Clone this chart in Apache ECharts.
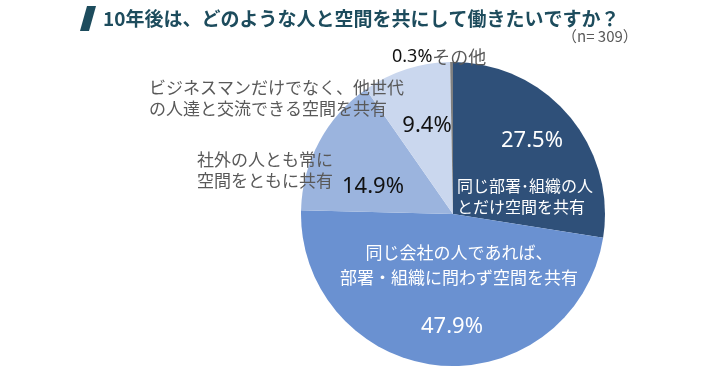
<!DOCTYPE html>
<html><head><meta charset="utf-8">
<script src="https://cdn.jsdelivr.net/npm/echarts@6/dist/echarts.min.js"></script>
<style>html,body{margin:0;padding:0;background:#fff}#c{width:720px;height:374px}</style>
</head><body><div id="c"></div>
<script>
const categories = [
  '同じ部署･組織の人\nとだけ空間を共有',
  '同じ会社の人であれば、\n部署・組織に問わず空間を共有',
  '社外の人とも常に\n空間をともに共有',
  'ビジネスマンだけでなく、他世代\nの人達と交流できる空間を共有',
  'その他'
];
const values = [27.5, 47.9, 14.9, 9.4, 0.3];
const colors = ['#2F5079', '#6A91D1', '#9BB4DE', '#CAD7EE', '#7F7F7F'];
const titleText = '10年後は、どのような人と空間を共にして働きたいですか？';
const nText = '（n= 309）';

const JP = '"Noto Sans CJK JP","Noto Sans",sans-serif';
const NUM = '"Noto Sans","Noto Sans CJK JP",sans-serif';

// label anchor settings (layout)
const pctPos = [
  {x: 532, y: 141, align: 'center'},
  {x: 452, y: 327, align: 'center'},
  {x: 373, y: 187, align: 'center'},
  {x: 427, y: 126, align: 'center'},
  {x: 392, y: 57, align: 'left'}
];
const namePos = [
  {x: 457, y: 196, align: 'left'},
  {x: 459, y: 265, align: 'center'},
  {x: 197, y: 170, align: 'left'},
  {x: 149, y: 98, align: 'left'},
  null
];
const nameSize = [16, 17, 17, 17, 17];
const pctColor = ['#fff', '#fff', '#111', '#111', '#111'];
const nameColor = ['#fff', '#fff', '#595959', '#595959', '#595959'];

const chart = echarts.init(document.getElementById('c'));
const center = [453, 214];
const radius = 152;

chart.setOption({
  animation: false,
  graphic: [
    {type: 'polygon', shape: {points: [[87, 6], [96, 6], [89, 31], [80, 31]]}, style: {fill: '#1D4C5D'}},
    {type: 'text', left: 103, top: 9, style: {text: titleText, font: 'bold 19px ' + JP, fill: '#1D4C5D'}},
    {type: 'text', left: 562, top: 29, style: {text: nText, font: '15px ' + JP, fill: '#595959'}}
  ],
  series: [
    {
      type: 'pie', center: center, radius: radius, startAngle: 90, clockwise: true,
      silent: true,
      itemStyle: {borderWidth: 0},
      data: values.map((v, i) => ({
        value: v, name: categories[i],
        itemStyle: {color: colors[i], borderWidth: 0},
        label: {
          color: pctColor[i],
          formatter: i === 4 ? '{p|' + v.toFixed(1) + '%}{n|' + categories[i] + '}' : v.toFixed(1) + '%'
        }
      })),
      label: {
        show: true, position: 'inside', fontFamily: NUM, fontSize: 22,
        rich: {
          p: {fontFamily: NUM, fontSize: 18, color: '#111'},
          n: {fontFamily: JP, fontSize: 18, color: '#595959'}
        }
      },
      labelLine: {show: false},
      labelLayout: function (p) {
        const q = pctPos[p.dataIndex];
        return {x: q.x, y: q.y, align: q.align, verticalAlign: 'middle'};
      }
    },
    {
      type: 'pie', center: center, radius: radius, startAngle: 90, clockwise: true,
      silent: true, z: 3,
      data: values.map((v, i) => ({
        value: v, name: categories[i],
        itemStyle: {color: 'rgba(0,0,0,0)', borderWidth: 0},
        label: {show: i !== 4, color: nameColor[i], fontSize: nameSize[i], lineHeight: i === 1 ? 25 : 21}
      })),
      label: {
        position: 'inside', fontFamily: JP,
        formatter: '{b}'
      },
      labelLine: {show: false},
      labelLayout: function (p) {
        const q = namePos[p.dataIndex];
        if (!q) return {};
        return {x: q.x, y: q.y, align: q.align, verticalAlign: 'middle'};
      }
    }
  ]
});
</script></body></html>
